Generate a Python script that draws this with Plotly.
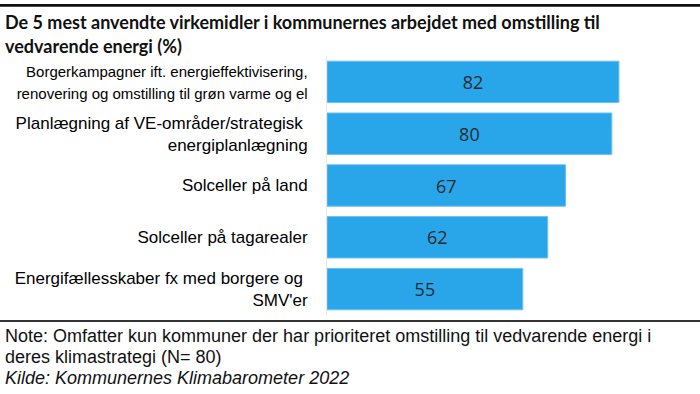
import plotly.graph_objects as go

categories = [
    "<span style='font-size:15px'>Borgerkampagner ift. energieffektivisering,<br>renovering og omstilling til grøn varme og el</span>",
    "Planlægning af VE-områder/strategisk\u00a0<br>energiplanlægning",
    "Solceller på land",
    "Solceller på tagarealer",
    "Energifællesskaber fx med borgere og\u00a0<br>SMV'er",
]
values = [82, 80, 67, 62, 55]

title_lines = [
    "De 5 mest anvendte virkemidler i kommunernes arbejdet med omstilling til",
    "vedvarende energi (%)",
]
note_lines = [
    "Note: Omfatter kun kommuner der har prioriteret omstilling til vedvarende energi i",
    "deres klimastrategi (N= 80)",
]
source_line = "Kilde: Kommunernes Klimabarometer 2022"

W, H = 700, 394
L, R, T, B = 327, 20, 56, 79
scale = 3.56
xmax = (W - L - R) / scale
PW, PH = W - L - R, H - T - B

fig = go.Figure(
    go.Bar(
        x=values,
        y=categories,
        orientation="h",
        marker=dict(color="#29a5ea", line=dict(color="#6cc3f2", width=1)),
        text=[str(v) for v in values],
        textposition="inside",
        insidetextanchor="middle",
        textangle=0,
        textfont=dict(family="Open Sans, Liberation Sans", size=18, color="#2b2b2b"),
        width=0.8,
        hoverinfo="skip",
    )
)

fig.update_layout(
    width=W,
    height=H,
    margin=dict(l=L, r=R, t=T, b=B, autoexpand=False),
    paper_bgcolor="white",
    plot_bgcolor="white",
    showlegend=False,
    font=dict(family="Liberation Sans, Arial", color="#000000"),
)
fig.update_xaxes(range=[0, xmax], visible=False, fixedrange=True, automargin=False)
fig.update_yaxes(
    autorange="reversed",
    automargin=False,
    showgrid=False,
    showline=True,
    linecolor="#e8e8e8",
    linewidth=1,
    ticks="",
    ticklabelstandoff=15,
    tickfont=dict(family="Liberation Sans, Arial", size=17, color="#000000"),
    fixedrange=True,
)

def py(y):
    return 1 - (y - T) / PH

def px(x):
    return (x - L) / PW

# top rule and separator
fig.add_shape(type="rect", xref="paper", yref="paper", layer="above",
              x0=px(0), x1=px(W), y0=py(6.8), y1=py(4),
              fillcolor="#111111", line=dict(width=0))
fig.add_shape(type="line", xref="paper", yref="paper",
              x0=px(0), x1=px(W), y0=py(321), y1=py(321),
              line=dict(color="#333333", width=1.8))

def ann(text, x, y, size, family, bold=False, italic=False):
    t = text
    if bold:
        t = "<b>" + t + "</b>"
    if italic:
        t = "<i>" + t + "</i>"
    fig.add_annotation(
        text=t, xref="paper", yref="paper",
        x=px(x), y=py(y),
        xanchor="left", yanchor="middle", showarrow=False,
        font=dict(family=family, size=size, color="#111111"),
    )

ann(title_lines[0], 3, 22, 18, "Lato", bold=True)
ann(title_lines[1], 3, 46, 18, "Lato", bold=True)
ann(note_lines[0], 3, 336, 18, "Liberation Sans, Arial")
ann(note_lines[1], 3, 357, 18, "Liberation Sans, Arial")
ann(source_line, 3, 378, 18, "Liberation Sans, Arial", italic=True)

fig.write_html(
    "out.html",
    config={"displayModeBar": False},
    post_script="document.body.style.margin='0';document.body.style.overflow='hidden';",
)
